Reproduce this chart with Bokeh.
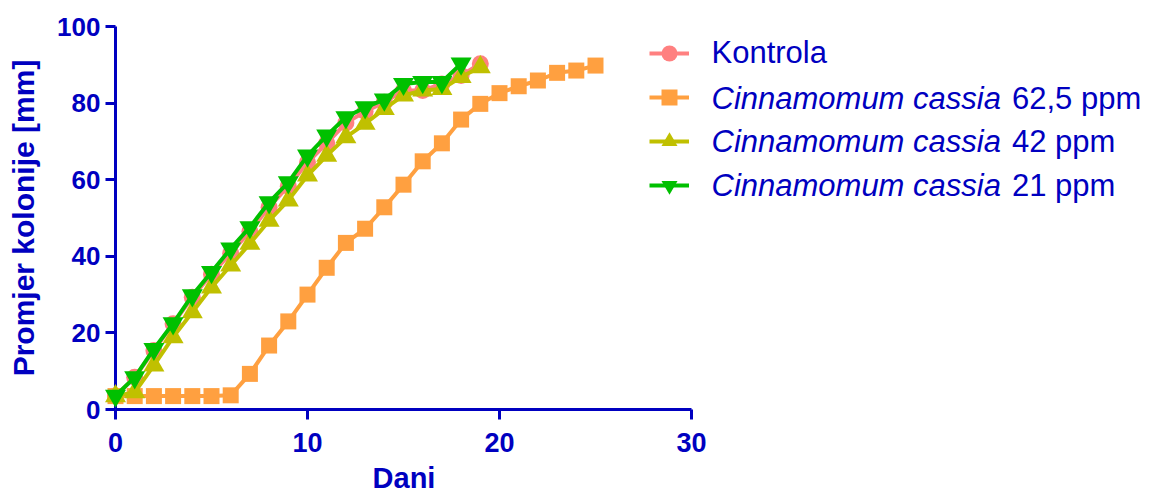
from bokeh.plotting import figure
from bokeh.models import Range1d, FixedTicker, Legend, LegendItem
from bokeh.core.properties import value
from bokeh.embed import file_html
from bokeh.resources import INLINE

# ---- data ----
days_kontrola = list(range(0, 20))
kontrola = [3.5, 8.4, 15.4, 22.4, 29.3, 35.3, 40.8, 46.5, 52.8, 58.3,
            64.5, 69.5, 74.8, 77.8, 80.2, 83.3, 83.3, 85.0, 87.2, 90.3]

days_625 = list(range(0, 26))
cc_625 = [3.5, 3.5, 3.5, 3.5, 3.5, 3.5, 3.7, 9.3, 16.7, 23.0,
          30.0, 37.0, 43.5, 47.2, 52.8, 58.7, 64.8, 69.5, 75.7, 79.8,
          82.6, 84.4, 85.9, 87.9, 88.5, 89.8]

days_42 = list(range(0, 20))
cc_42 = [3.5, 4.5, 11.5, 18.9, 25.4, 31.9, 37.6, 43.3, 49.3, 54.6,
         61.1, 66.3, 71.1, 74.6, 78.5, 82.0, 83.3, 83.7, 86.8, 89.4]

days_21 = list(range(0, 19))
cc_21 = [3.6, 8.4, 15.8, 22.5, 29.8, 35.9, 42.0, 47.6, 54.1, 59.3,
         66.3, 71.5, 76.3, 78.9, 80.9, 85.0, 85.5, 85.5, 90.3]

x_ticks = [0, 10, 20, 30]
y_ticks = [0, 20, 40, 60, 80, 100]

x_title = "Dani"
y_title = "Promjer kolonije [mm]"
series_italic = ["Cinnamomum cassia", "Cinnamomum cassia", "Cinnamomum cassia"]
series_regular = ["62,5 ppm", "42 ppm", "21 ppm"]
control_label = "Kontrola"

AX = "#0000C0"
FONT = "Liberation Sans"
colors = ["#FF8080", "#FFA040", "#C0C000", "#00C000"]
markers = ["circle", "square", "triangle", "inverted_triangle"]
msizes = [17, 16, 21, 21]

# ---- layout (pixels) ----
W, H = 1160, 495
FL, FR, FT, FB = 115, 691, 26, 409     # frame left / right / top / bottom
xpx = (FR - FL) / 30.0
ypx = (FB - FT) / 100.0

def dx(px):
    return (px - FL) / xpx

def dy(py):
    return (FB - py) / ypx

p = figure(width=W, height=H, output_backend="svg", toolbar_location=None,
           x_range=Range1d(0, 30), y_range=Range1d(0, 100),
           min_border_left=FL, min_border_right=W - FR,
           min_border_top=FT, min_border_bottom=H - FB)
p.outline_line_color = None
p.xgrid.visible = False
p.ygrid.visible = False
p.background_fill_color = "white"
p.border_fill_color = "white"

for ax in (p.xaxis, p.yaxis):
    ax.axis_line_color = AX
    ax.axis_line_width = 3
    ax.major_tick_line_color = AX
    ax.major_tick_line_width = 3
    ax.major_tick_out = 10
    ax.major_tick_in = 0
    ax.minor_tick_line_color = None
    ax.major_label_text_color = AX
    ax.major_label_text_font = FONT
    ax.major_label_text_font_style = "bold"
    ax.axis_label_text_color = AX
    ax.axis_label_text_font = FONT
    ax.axis_label_text_font_style = "bold"

p.xaxis.ticker = FixedTicker(ticks=x_ticks)
p.yaxis.ticker = FixedTicker(ticks=y_ticks)
p.xaxis.major_label_text_font_size = "27px"
p.yaxis.major_label_text_font_size = "26px"
p.xaxis.major_label_standoff = 13
p.yaxis.major_label_standoff = 5
p.yaxis.axis_label = y_title
p.yaxis.axis_label_text_font_size = "30px"
p.yaxis.axis_label_standoff = 14

xs = [days_kontrola, days_625, days_42, days_21]
ys = [kontrola, cc_625, cc_42, cc_21]

items = []
for i in range(4):
    lr = p.line(xs[i], ys[i], line_color=colors[i], line_width=4, level="annotation")
    sr = p.scatter(xs[i], ys[i], marker=markers[i], size=msizes[i],
                   fill_color=colors[i], line_color=None, level="annotation")
    items.append(LegendItem(label=value(""), renderers=[lr, sr]))

LEG_LEFT, LEG_TOP = 649, 33
leg_h = 4 * 40 + 3 * 4
legend = Legend(items=items, location=(LEG_LEFT - FL, FB - LEG_TOP - leg_h),
                glyph_width=40, glyph_height=40, label_height=40, label_width=0,
                spacing=4, padding=0, margin=0, label_standoff=0,
                border_line_alpha=0, background_fill_alpha=0)
p.add_layout(legend, "center")

# x-axis title (drawn as text so it can sit as low as in the reference)
p.text(x=[dx(403.5)], y=[dy(477.0)], text=[x_title], text_font=value(FONT),
       text_font_size=value("29px"), text_font_style="bold", text_color=AX,
       text_align="center", text_baseline="alphabetic", level="annotation")

# legend texts (mixed italic / regular)
baselines = [52.2, 97.8, 141.2, 184.5]
TEXT_X, REG_X = 711, 1011.5
p.text(x=[dx(TEXT_X)], y=[dy(baselines[0])], text=[control_label],
       text_font=value(FONT), text_font_size=value("31px"), text_color=AX,
       text_align="left", text_baseline="alphabetic", level="annotation")
p.text(x=[dx(TEXT_X)] * 3, y=[dy(b) for b in baselines[1:]], text=series_italic,
       text_font=value(FONT), text_font_size=value("31px"), text_font_style="italic",
       text_color=AX, text_align="left", text_baseline="alphabetic", level="annotation")
p.text(x=[dx(REG_X)] * 3, y=[dy(b) for b in baselines[1:]], text=series_regular,
       text_font=value(FONT), text_font_size=value("31px"),
       text_color=AX, text_align="left", text_baseline="alphabetic", level="annotation")

open("out.html", "w").write(file_html(p, INLINE))
